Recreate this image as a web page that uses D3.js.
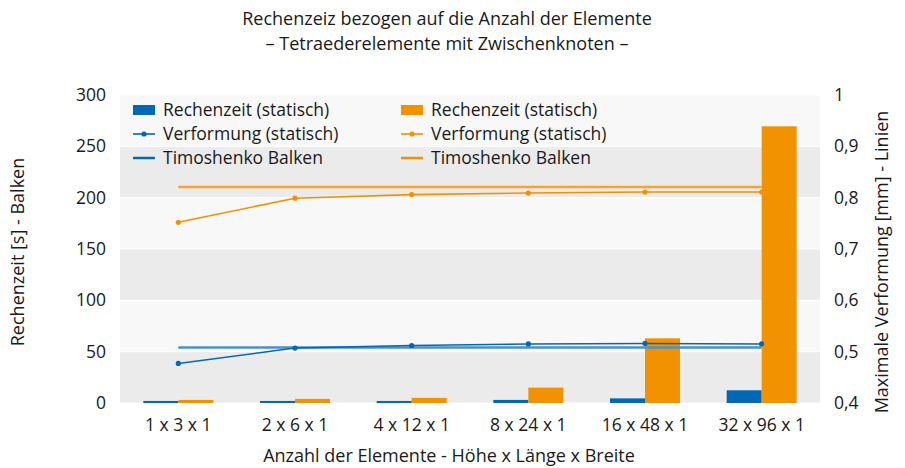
<!DOCTYPE html>
<html>
<head>
<meta charset="utf-8">
<script src="https://cdn.jsdelivr.net/npm/d3@7"></script>
<style>
  body { margin: 0; background: #fff; }
  text { fill: #1a1a1a; }
  .reg { font-family: "Open Sans", "Noto Sans", sans-serif; }
</style>
</head>
<body>
<div id="chart"></div>
<script>
// data
var categories = ["1 x 3 x 1", "2 x 6 x 1", "4 x 12 x 1", "8 x 24 x 1", "16 x 48 x 1", "32 x 96 x 1"];
var zeitBlau = [2, 2, 2, 3, 4.5, 12.4];          // Rechenzeit (statisch), blau
var zeitOrange = [3, 4, 5, 15, 63, 269.5];       // Rechenzeit (statisch), orange
var verfBlau = [0.477, 0.507, 0.512, 0.515, 0.516, 0.515];
var verfOrange = [0.752, 0.799, 0.806, 0.809, 0.811, 0.811];
var timoBlau = 0.508;
var timoOrange = 0.821;
var leftTicks = [0, 50, 100, 150, 200, 250, 300];
var rightTicks = [0.4, 0.5, 0.6, 0.7, 0.8, 0.9, 1];

var W = 905, H = 468;
var m = {left: 120, right: 85, top: 95, bottom: 65};
var blue = "#0068b4", orange = "#f39200";

var svg = d3.select("#chart").append("svg")
  .attr("width", W).attr("height", H);

var x = d3.scaleBand().domain(categories).range([m.left, W - m.right]);
var y = d3.scaleLinear().domain([0, 300]).range([H - m.bottom, m.top]);
var y2 = d3.scaleLinear().domain([0.4, 1]).range([H - m.bottom, m.top]);

// alternating background bands
var bands = d3.pairs(leftTicks);
svg.selectAll("rect.band").data(bands).enter().append("rect")
  .attr("class", "band")
  .attr("x", m.left).attr("width", W - m.right - m.left)
  .attr("y", function(d) { return y(d[1]); })
  .attr("height", function(d) { return y(d[0]) - y(d[1]); })
  .attr("fill", function(d, i) { return i % 2 == 0 ? "#ebebeb" : "#f8f8f8"; });

svg.selectAll("line.grid").data(leftTicks).enter().append("line")
  .attr("x1", m.left).attr("x2", W - m.right)
  .attr("y1", function(d) { return y(d); }).attr("y2", function(d) { return y(d); })
  .attr("stroke", "#fff").attr("stroke-width", 1);

// bars
var bw = x.bandwidth() * 0.3;
function cx(c) { return x(c) + x.bandwidth() / 2; }

svg.selectAll("rect.b1").data(zeitBlau).enter().append("rect")
  .attr("x", function(d, i) { return cx(categories[i]) - bw; })
  .attr("width", bw)
  .attr("y", function(d) { return y(d); })
  .attr("height", function(d) { return y(0) - y(d); })
  .attr("fill", blue);

svg.selectAll("rect.b2").data(zeitOrange).enter().append("rect")
  .attr("x", function(d, i) { return cx(categories[i]); })
  .attr("width", bw)
  .attr("y", function(d) { return y(d); })
  .attr("height", function(d) { return y(0) - y(d); })
  .attr("fill", orange);

// Timoshenko lines
var x0 = cx(categories[0]), x1 = cx(categories[categories.length - 1]);
[[timoBlau, "#4a90c9"], [timoOrange, "#f6a52b"]].forEach(function(t) {
  svg.append("line")
    .attr("x1", x0).attr("x2", x1)
    .attr("y1", y2(t[0])).attr("y2", y2(t[0]))
    .attr("stroke", t[1]).attr("stroke-width", 2.5);
});

// Verformung lines
var line = d3.line()
  .x(function(d, i) { return cx(categories[i]); })
  .y(function(d) { return y2(d); });

[[verfBlau, blue], [verfOrange, orange]].forEach(function(s) {
  svg.append("path").datum(s[0])
    .attr("d", line)
    .attr("fill", "none")
    .attr("stroke", s[1]).attr("stroke-width", 1.6);
  svg.selectAll(null).data(s[0]).enter().append("circle")
    .attr("cx", function(d, i) { return cx(categories[i]); })
    .attr("cy", function(d) { return y2(d); })
    .attr("r", 2.6)
    .attr("fill", s[1]);
});

// axes (labels only)
var fs = 17.5;
svg.selectAll("text.lt").data(leftTicks).enter().append("text")
  .attr("class", "reg")
  .attr("x", 106).attr("y", function(d) { return y(d); })
  .attr("dy", "0.35em").attr("text-anchor", "end")
  .style("font-size", fs + "px")
  .text(function(d) { return d; });

svg.selectAll("text.rt").data(rightTicks).enter().append("text")
  .attr("class", "reg")
  .attr("x", 834).attr("y", function(d) { return y2(d); })
  .attr("dy", "0.35em").attr("text-anchor", "start")
  .style("font-size", fs + "px")
  .text(function(d) { return String(d).replace(".", ","); });

svg.selectAll("text.xt").data(categories).enter().append("text")
  .attr("class", "reg")
  .attr("x", function(d) { return cx(d); }).attr("y", 431)
  .attr("text-anchor", "middle")
  .style("font-size", fs + "px")
  .text(function(d) { return d; });

svg.append("text").attr("class", "reg")
  .attr("x", 449).attr("y", 462)
  .attr("text-anchor", "middle").style("font-size", "18px")
  .text("Anzahl der Elemente - Höhe x Länge x Breite");

svg.append("text").attr("class", "reg")
  .attr("transform", "translate(24,252) rotate(-90)")
  .attr("text-anchor", "middle").style("font-size", "18px")
  .text("Rechenzeit [s] - Balken");

svg.append("text").attr("class", "reg")
  .attr("transform", "translate(888,262) rotate(-90)")
  .attr("text-anchor", "middle").style("font-size", "18px")
  .text("Maximale Verformung [mm] - Linien");

// title
svg.append("text").attr("class", "reg")
  .attr("x", 447).attr("y", 25)
  .attr("text-anchor", "middle").style("font-size", "18px")
  .text("Rechenzeiz bezogen auf die Anzahl der Elemente");
svg.append("text").attr("class", "reg")
  .attr("x", 447).attr("y", 50)
  .attr("text-anchor", "middle").style("font-size", "18px")
  .text("– Tetraederelemente mit Zwischenknoten –");

// legend
var legend = [
  {col: 0, row: 0, type: "bar", color: blue, label: "Rechenzeit (statisch)"},
  {col: 0, row: 1, type: "dot", color: blue, label: "Verformung (statisch)"},
  {col: 0, row: 2, type: "line", color: blue, label: "Timoshenko Balken"},
  {col: 1, row: 0, type: "bar", color: orange, label: "Rechenzeit (statisch)"},
  {col: 1, row: 1, type: "dot", color: orange, label: "Verformung (statisch)"},
  {col: 1, row: 2, type: "line", color: orange, label: "Timoshenko Balken"}
];
var lg = svg.selectAll("g.leg").data(legend).enter().append("g")
  .attr("transform", function(d) { return "translate(" + (133 + d.col * 268) + "," + (110 + d.row * 24) + ")"; });
lg.each(function(d) {
  var g = d3.select(this);
  if (d.type == "bar") {
    g.append("rect").attr("x", 0).attr("y", -5).attr("width", 22).attr("height", 10).attr("fill", d.color);
  } else {
    g.append("line").attr("x1", 0).attr("x2", 22).attr("y1", 0).attr("y2", 0)
      .attr("stroke", d.color).attr("stroke-width", d.type == "line" ? 2.5 : 1.6);
    if (d.type == "dot") g.append("circle").attr("cx", 11).attr("cy", 0).attr("r", 2.6).attr("fill", d.color);
  }
  g.append("text").attr("class", "reg").attr("x", 30).attr("dy", "0.35em")
    .style("font-size", fs + "px").text(d.label);
});
</script>
</body>
</html>
